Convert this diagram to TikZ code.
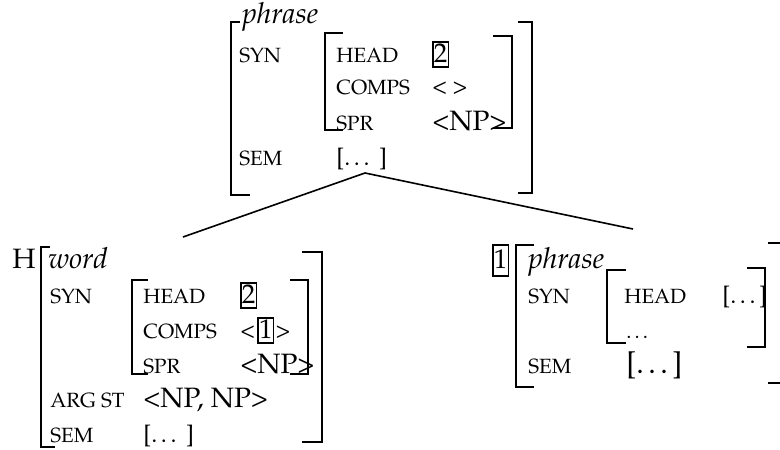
\documentclass[tikz,border=0pt]{standalone}
\usepackage[T1]{fontenc}
\usepackage{mathpazo}
\usetikzlibrary{positioning}

\begin{document}
\begin{tikzpicture}[
    x=0.5pt, y=-0.5pt,
    lbl/.style    ={anchor=base west, inner sep=0pt, font=\fontsize{10.3}{12}\selectfont},
    big/.style    ={lbl, font=\fontsize{14}{16}\selectfont},
    typ/.style    ={lbl, font=\fontsize{14.5}{17}\selectfont\itshape},
    tag/.style    ={draw, line width=0.8pt, inner xsep=0.5pt, inner ysep=0.5pt,
                    text height=9.5pt, text depth=2pt, font=\fontsize{13.5}{16}\selectfont},
    brak/.style   ={line width=1pt},
    branch/.style ={line width=0.8pt}
]
\useasboundingbox (0,0) rectangle (780,449);

% Mother: phrase
\draw[brak] (240,22) -- (231,22) -- (231,195) -- (250,195);
\draw[brak] (518,22) -- (532,22) -- (532,193) -- (518,193);
\node[typ] (mtype) at (242,24) {phrase};
\node[lbl] (msyn)  at (239,63) {SYN};
\draw[brak] (343,33) -- (325,33) -- (325,130) -- (343,130);
\draw[brak] (493,36) -- (512,36) -- (512,128) -- (493,128);
\node[lbl] (mhead)  at (336,62) {HEAD};
\node[tag, anchor=base west] (mheadtag) at (432,62) {2};
\node[lbl] (mcomps) at (336,95) {COMPS};
\node[lbl, font=\fontsize{12}{14}\selectfont] (mcompsval) at (432,95) {< >};
\node[lbl] (mspr)   at (336,130) {SPR};
\node[big] (msprval) at (432,130) {<NP>};
\node[lbl] (msem)   at (239,165) {SEM};
\node[lbl, font=\fontsize{12}{14}\selectfont] (msemval) at (336,165) {[\dots\ ]};

% Branches
\coordinate (apex)    at (365,173);
\coordinate (hdtop)   at (183,237);
\coordinate (comptop) at (633,229);
\draw[branch] (hdtop) -- (apex) -- (comptop);

% Head daughter: word
\node[big] (hmark) at (12,268) {H};
\draw[brak] (50,247) -- (41,247) -- (41,447) -- (55,447);
\draw[brak] (302,252) -- (322,252) -- (322,442) -- (302,442);
\node[typ] (dtype) at (48,268) {word};
\node[lbl] (dsyn)  at (50,303) {SYN};
\draw[brak] (148,280) -- (132,280) -- (132,374) -- (148,374);
\draw[brak] (290,280) -- (308,280) -- (308,374) -- (290,374);
\node[lbl] (dhead)  at (143,303) {HEAD};
\node[tag, anchor=base west] (dheadtag) at (240,303) {2};
\node[lbl] (dcomps) at (143,338) {COMPS};
\node[lbl, font=\fontsize{12}{14}\selectfont] (dlt) at (240,338) {<};
\node[tag, base right=1pt of dlt] (dcompstag) {1};
\node[lbl, font=\fontsize{12}{14}\selectfont, base right=0.5pt of dcompstag] (dgt) {>};
\node[lbl] (dspr)   at (143,373) {SPR};
\node[big] (dsprval) at (240,373) {<NP>};
\node[lbl] (darg)   at (50,407) {ARG ST};
\node[big] (dargval) at (143,407) {<NP, NP>};
\node[lbl] (dsem)   at (50,442) {SEM};
\node[lbl, font=\fontsize{12}{14}\selectfont] (dsemval) at (143,442) {[\dots\ ]};

% Complement daughter: phrase
\node[tag, anchor=base west, text height=11pt, text depth=3.5pt] (ctag) at (492,268) {1};
\draw[brak] (534,245) -- (516,245) -- (516,387) -- (534,387);
\draw[brak] (768,243) -- (780,243);
\draw[brak] (768,383) -- (780,383);
\node[typ] (ctype) at (528,268) {phrase};
\node[lbl] (csyn)  at (528,303) {SYN};
\draw[brak] (626,270) -- (607,270) -- (607,343) -- (626,343);
\draw[brak] (747,268) -- (765,268) -- (765,347) -- (747,347);
\node[lbl] (chead) at (624,303) {HEAD};
\node[lbl, font=\fontsize{12}{14}\selectfont] (cheadval) at (722,303) {[\dots]};
\node[lbl] (cmore) at (626,338) {\dots};
\node[lbl] (csem)  at (528,373) {SEM};
\node[lbl, font=\fontsize{15}{18}\selectfont] (csemval) at (626,373) {[\dots]};

\end{tikzpicture}
\end{document}
